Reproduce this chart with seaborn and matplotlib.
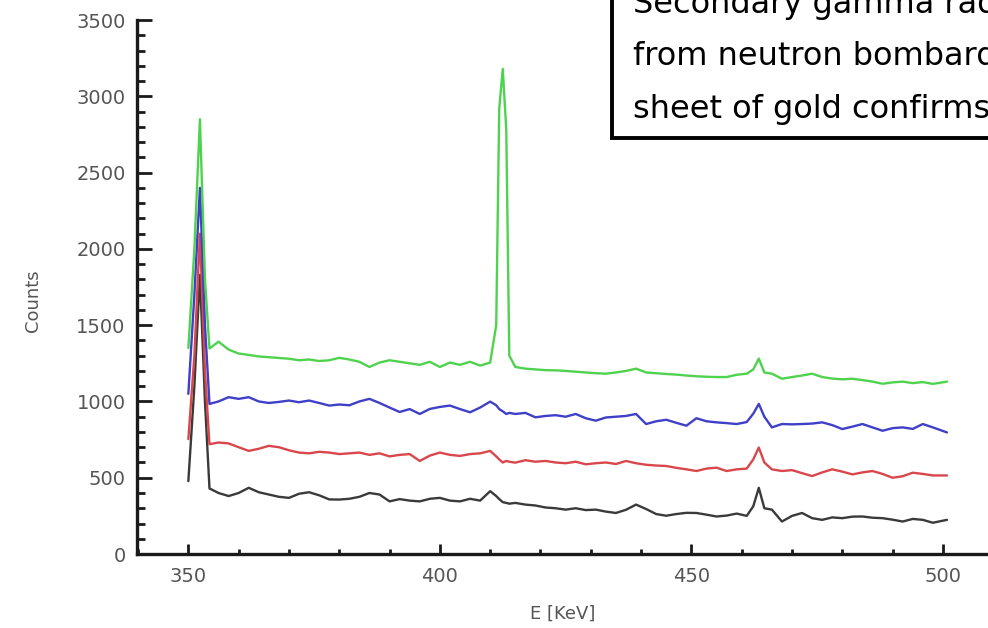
import matplotlib
matplotlib.use("Agg")
import matplotlib.pyplot as plt
import seaborn as sns
import pandas as pd
from matplotlib.patches import Rectangle
from matplotlib.ticker import MultipleLocator

# ---------------- data ----------------
energy = [350, 351.2, 352.3, 353.3, 354.2,
          356, 358, 360, 362, 364, 366, 368, 370, 372, 374, 376, 378, 380, 382,
          384, 386, 388, 390, 392, 394, 396, 398, 400, 402, 404, 406, 408, 410,
          411.2, 411.8, 412.5, 413.2, 413.8,
          415, 417, 419, 421, 423, 425, 427, 429, 431, 433, 435, 437, 439, 441,
          443, 445, 447, 449, 451, 453, 455, 457, 459, 461,
          462.3, 463.4, 464.5,
          466, 468, 470, 472, 474, 476, 478, 480, 482, 484, 486, 488, 490, 492,
          494, 496, 498, 500.8]

black_counts = [478, 1100, 1830, 1000, 430,
                400, 380, 400, 434, 405, 390, 375, 368, 395, 405, 385, 358, 357, 362,
                375, 400, 390, 345, 360, 350, 345, 362, 368, 350, 345, 362, 350, 412,
                380, 360, 340, 335, 330,
                335, 324, 318, 305, 300, 291, 300, 288, 291, 278, 269, 290, 324, 295,
                262, 251, 262, 270, 269, 258, 246, 252, 265, 250,
                313, 434, 300,
                291, 213, 250, 269, 235, 224, 240, 235, 245, 246, 238, 235, 225, 213,
                230, 224, 205, 224]

red_counts = [753, 1300, 2100, 1200, 720,
              731, 725, 700, 676, 690, 709, 700, 680, 665, 660, 670, 665, 655, 660,
              665, 650, 660, 640, 650, 655, 610, 645, 665, 650, 643, 655, 660, 676,
              640, 620, 600, 610, 605,
              599, 615, 605, 610, 600, 595, 605, 588, 595, 600, 590, 610, 595, 585,
              580, 577, 565, 555, 544, 560, 566, 544, 555, 560,
              620, 698, 600,
              555, 544, 550, 530, 511, 535, 555, 540, 522, 535, 544, 525, 500, 510,
              533, 525, 515, 515]

blue_counts = [1050, 1700, 2400, 1500, 984,
               1000, 1028, 1017, 1028, 1000, 990, 997, 1006, 995, 1006, 990, 973, 980, 975,
               1000, 1017, 990, 960, 931, 950, 918, 951, 964, 973, 950, 929, 960, 999,
               975, 950, 935, 918, 925,
               918, 925, 896, 905, 910, 900, 918, 890, 874, 895, 900, 905, 918, 852,
               870, 880, 860, 841, 890, 870, 863, 858, 852, 865,
               920, 984, 900,
               830, 852, 850, 852, 855, 863, 845, 819, 835, 852, 830, 808, 825, 830,
               820, 852, 830, 797]

green_counts = [1350, 2000, 2850, 1800, 1347,
                1392, 1340, 1314, 1305, 1295, 1290, 1285, 1280, 1270, 1275, 1265, 1270, 1286, 1275,
                1260, 1226, 1255, 1270, 1260, 1250, 1240, 1260, 1226, 1255, 1240, 1260, 1235, 1255,
                1500, 2920, 3180, 2780, 1300,
                1226, 1215, 1210, 1205, 1204, 1200, 1195, 1190, 1185, 1182, 1190, 1200, 1215, 1190,
                1185, 1180, 1176, 1170, 1165, 1162, 1160, 1160, 1175, 1182,
                1210, 1281, 1190,
                1182, 1149, 1160, 1170, 1182, 1160, 1150, 1145, 1149, 1140, 1130, 1116, 1125, 1130,
                1120, 1127, 1115, 1130]

series_names = ["black", "red", "blue", "green"]
series_colors = {"black": "#3a3a3a", "red": "#d9474c", "blue": "#3f3fc8", "green": "#4fd34f"}

x_ticks = [350, 400, 450, 500]
y_ticks = [0, 500, 1000, 1500, 2000, 2500, 3000, 3500]

note_lines = ["Secondary gamma radiation",
              "from neutron bombardment",
              "sheet of gold confirms the"]

# ---------------- build table ----------------
all_counts = black_counts + red_counts + blue_counts + green_counts
df = pd.DataFrame({
    "E": energy * 4,
    "Counts": all_counts,
    "series": sum([[n] * len(energy) for n in series_names], []),
})

sns.set_style("ticks")
plt.rcParams["font.family"] = ["DejaVu Sans"]

fig = plt.figure(figsize=(9.88, 6.28), dpi=100)
ax = fig.add_axes([0.1384, 0.1178, 0.8617, 0.8503])

sns.lineplot(data=df, x="E", y="Counts", hue="series", hue_order=series_names,
             palette=series_colors, estimator=None, sort=False, lw=1.7,
             legend=False, ax=ax)

ax.set_xlim(339.74, 508.98)
ax.set_ylim(0, 3500)
ax.set_xticks(x_ticks)
ax.set_yticks(y_ticks)
ax.xaxis.set_minor_locator(MultipleLocator(10))
ax.yaxis.set_minor_locator(MultipleLocator(100))

sns.despine(ax=ax)
for s in ["left", "bottom"]:
    ax.spines[s].set_linewidth(2.4)
    ax.spines[s].set_color("#1a1a1a")

ax.tick_params(axis="y", which="major", direction="in", length=10.5, width=2, color="#1a1a1a",
               labelsize=14, labelcolor="#555555", pad=8)
ax.tick_params(axis="y", which="minor", direction="in", length=5.5, width=2, color="#1a1a1a")
ax.tick_params(axis="x", which="major", direction="in", length=7.5, width=2, color="#1a1a1a",
               labelsize=14, labelcolor="#555555", pad=9)
ax.tick_params(axis="x", which="minor", direction="in", length=3.5, width=2, color="#1a1a1a")

ax.set_xlabel("E [KeV]", fontsize=13, color="#555555")
ax.set_ylabel("Counts", fontsize=13, color="#555555")
ax.xaxis.set_label_coords(0.5, -0.095)
ax.yaxis.set_label_coords(-0.111, 0.474)

# ---------------- note box (cut off by the figure edge, as in the reference) ----------------
box = Rectangle((612 / 988, (628 - 138) / 628), 0.6, 0.4, transform=fig.transFigure,
                facecolor="white", edgecolor="black", lw=2.8, zorder=10)
fig.add_artist(box)
for line, base in zip(note_lines, [13, 65, 118]):
    fig.text(633 / 988, 1 - base / 628, line, fontsize=23, va="baseline", ha="left",
             color="black", zorder=11)

fig.savefig("out.png", dpi=100)
